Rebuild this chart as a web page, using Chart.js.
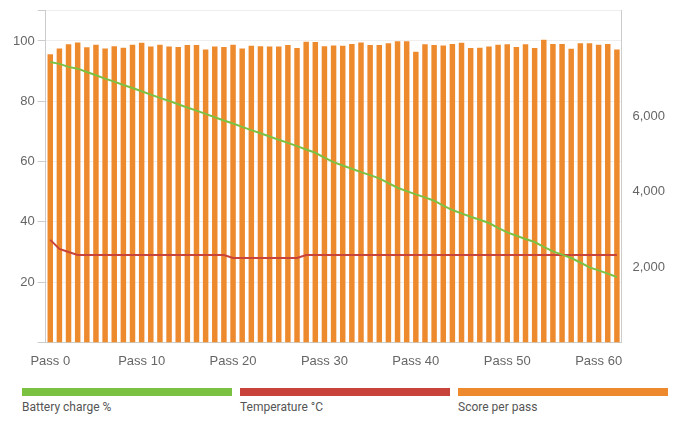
<!DOCTYPE html><html><head><script src="https://cdn.jsdelivr.net/npm/chart.js"></script>
<style>body{margin:0;background:#fff;font-family:Roboto,sans-serif}#w{position:relative;width:700px;height:372px}
#lg{display:flex;margin:16px 0 0 22px;gap:8px}#lg div{width:210px;font-size:12px;color:#555}#lg span{display:block;height:8px;margin-bottom:4px}</style></head><body>
<div id="w"><canvas id="c"></canvas></div>
<div id="lg"><div><span style="background:#7cc242"></span>Battery charge %</div><div><span style="background:#c8433a"></span>Temperature °C</div><div><span style="background:#ee8a2e"></span>Score per pass</div></div>
<script>
const labels=[...Array(63).keys()].map(i=>'Pass '+i);
const score=[7650,7800,7910,7960,7830,7900,7800,7860,7820,7900,7950,7850,7900,7850,7840,7890,7890,7770,7850,7840,7900,7800,7870,7860,7850,7850,7890,7810,7980,7970,7860,7880,7870,7920,7960,7890,7890,7940,7990,7990,7710,7910,7890,7880,7920,7950,7810,7820,7850,7900,7910,7840,7910,7810,8030,7920,7920,7790,7940,7940,7900,7920,7770];
const battery=[93,92.4,91.4,90.8,89.7,88.6,87.5,86.5,85.4,84.4,83.3,82.2,81.1,80.1,79,77.9,76.9,75.8,74.7,73.6,72.6,71.5,70.4,69.4,68.3,67.2,66.2,65.1,64,62.9,61.3,59.8,58.7,57.6,56.5,55.5,54.4,52.8,51.3,50.2,49.1,48.1,47,45.4,43.9,42.8,41.7,40.7,39.6,38,36.5,35.4,34.3,33.3,31.7,30.2,29.1,28,26.5,24.9,23.9,22.8,21.7];
const temp=[34,31,30,29,29,29,29,29,29,29,29,29,29,29,29,29,29,29,29,29,28,28,28,28,28,28,28,28,29,29,29,29,29,29,29,29,29,29,29,29,29,29,29,29,29,29,29,29,29,29,29,29,29,29,29,29,29,29,29,29,29,29,29];
const rightTicks=[2000,4000,6000];
new Chart(document.getElementById('c'),{data:{labels,datasets:[
{type:'line',data:battery,borderColor:'#7cc242',borderWidth:2,pointRadius:0,yAxisID:'y',order:1},
{type:'line',data:temp,borderColor:'#c8433a',borderWidth:2,pointRadius:0,yAxisID:'y',order:2},
{type:'bar',data:score,backgroundColor:'#ee8a2e',yAxisID:'y1',barPercentage:0.6,categoryPercentage:1,order:3}]},
options:{animation:false,responsive:true,maintainAspectRatio:false,layout:{padding:{left:10,right:32,top:0}},
plugins:{legend:{display:false},tooltip:{enabled:false}},
scales:{x:{offset:true,grid:{display:false},border:{color:'#ccc'},ticks:{autoSkip:false,maxRotation:0,color:'#666',font:{size:13},callback:(v,i)=>i%10===0?labels[i]:''}},
y:{position:'left',min:0,max:110,grid:{color:'#eee',tickColor:'#ccc',tickLength:8},border:{color:'#ccc'},ticks:{stepSize:20,color:'#666',font:{size:13},callback:v=>(v===0||v>100)?'':v}},
y1:{position:'right',min:0,max:8800,afterBuildTicks:a=>{a.ticks=rightTicks.map(v=>({value:v}))},grid:{display:false,tickLength:8,tickColor:'#ccc'},border:{color:'#ccc'},ticks:{color:'#666',font:{size:13}}}}}});
</script></body></html>
